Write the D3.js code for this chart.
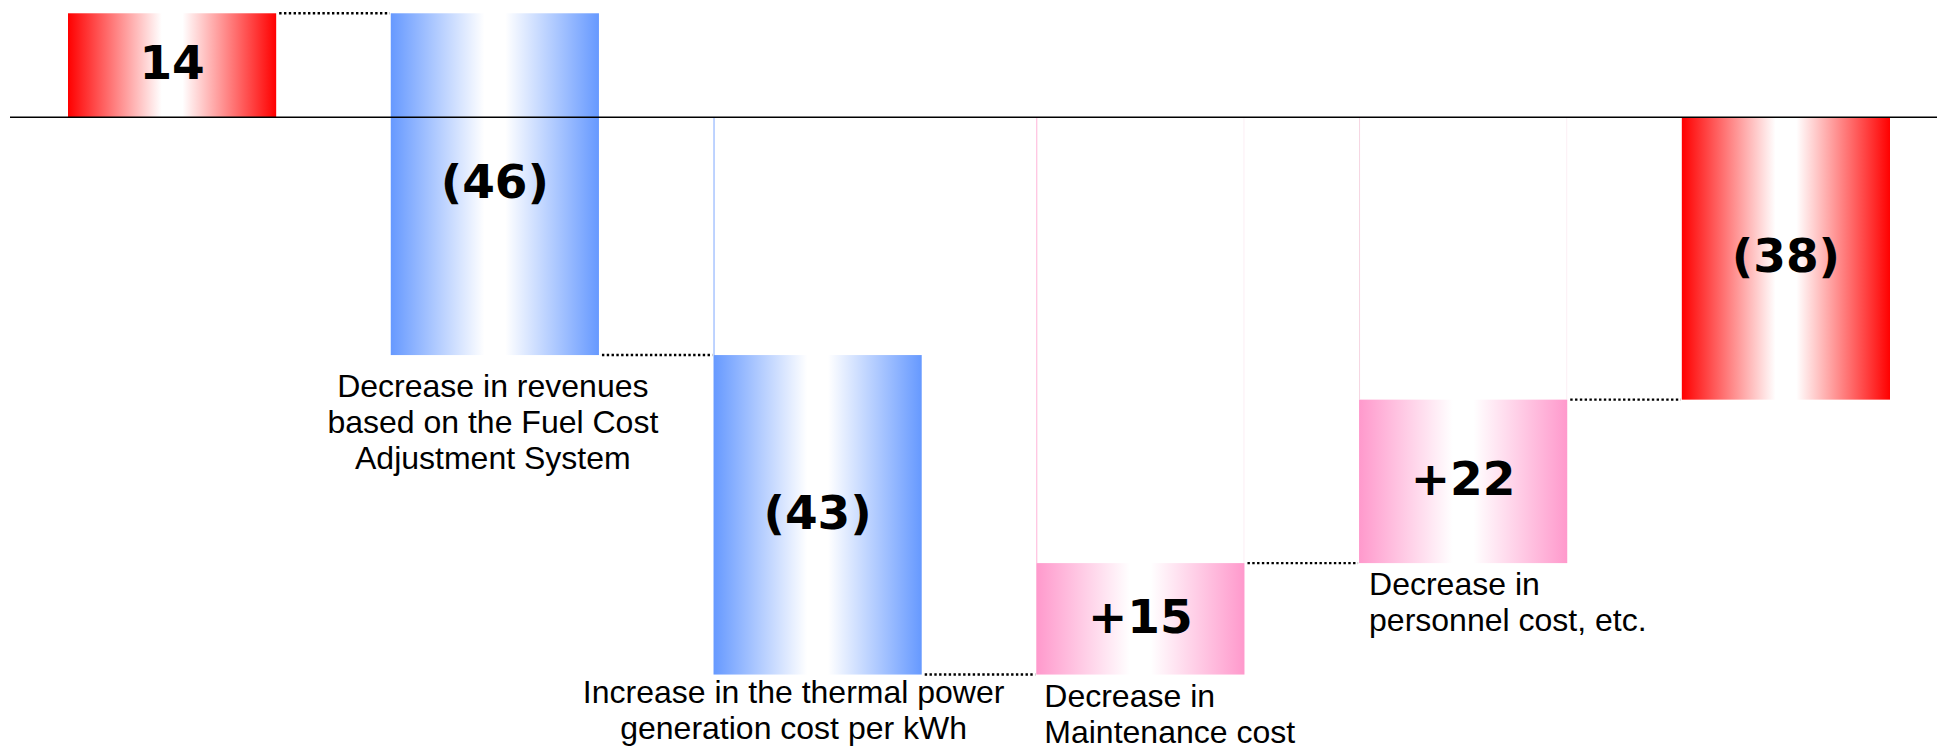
<!DOCTYPE html>
<html>
<head>
<meta charset="utf-8">
<script src="https://cdn.jsdelivr.net/npm/d3@7"></script>
<style>
  html, body { margin: 0; padding: 0; background: #ffffff; }
  svg { display: block; }
</style>
</head>
<body>
<svg id="chart" width="1937" height="750"></svg>
<script>
// Waterfall steps: opening total, four changes, closing total
const steps = ["opening", "fuelAdjustment", "thermalCost", "maintenance", "personnel", "closing"];
const kinds = ["total", "decrease", "decrease", "increase", "increase", "total"];
const values = [14, -46, -43, 15, 22, -38];
const valueLabels = ["14", "(46)", "(43)", "+15", "+22", "(38)"];
const stepLabels = [
  [],
  ["Decrease in revenues", "based on the Fuel Cost", "Adjustment System"],
  ["Increase in the thermal power", "generation cost per kWh"],
  ["Decrease in", "Maintenance cost"],
  ["Decrease in", "personnel cost, etc."],
  []
];

// running totals -> [start, end] of every bar
let running = 0;
const bars = steps.map((s, i) => {
  let start, end;
  if (kinds[i] === "total") { start = 0; end = values[i]; running = values[i]; }
  else { start = running; end = running + values[i]; running = end; }
  return { step: s, kind: kinds[i], value: values[i], label: valueLabels[i], lines: stepLabels[i], start, end, i };
});

const svg = d3.select("#chart");

const x = d3.scaleBand().domain(steps).range([68, 1890]).paddingInner(0.355).paddingOuter(0);
const y = d3.scaleLinear().domain([-85, 15]).range([748.85, 5.85]);

// horizontal "tube" gradients: strong colour at both edges, white in the middle
const defs = svg.append("defs");
const palette = { total: "#FF0000", decrease: "#6699FF", increase: "#FF99CC" };
Object.entries(palette).forEach(([k, c]) => {
  const g = defs.append("linearGradient").attr("id", "grad-" + k)
    .attr("x1", "0%").attr("x2", "100%").attr("y1", "0%").attr("y2", "0%");
  [[0, c], [0.45, "#FFFFFF"], [0.55, "#FFFFFF"], [1, c]].forEach(([o, col]) =>
    g.append("stop").attr("offset", o).attr("stop-color", col));
});

// faint outlines of the invisible base segments below the zero line
const baseEdge = { decrease: "#7FA8FF", increase: "#FFB3D9" };
bars.filter(b => b.kind !== "total" && Math.max(b.start, b.end) < 0).forEach(b => {
  const top = y(0), bottom = y(Math.max(b.start, b.end));
  const leftColor = b.i === 4 ? "#F6D5E2" : baseEdge[b.kind];
  svg.append("line")
    .attr("x1", x(b.step) + 0.5).attr("x2", x(b.step) + 0.5)
    .attr("y1", top).attr("y2", bottom)
    .attr("stroke", leftColor).attr("stroke-width", 1);
  if (b.kind === "increase") {
    svg.append("line")
      .attr("x1", x(b.step) + x.bandwidth() - 0.5).attr("x2", x(b.step) + x.bandwidth() - 0.5)
      .attr("y1", top).attr("y2", bottom)
      .attr("stroke", "#FCEEF4").attr("stroke-width", 1);
  }
});

// bars
svg.append("g").selectAll("rect").data(bars).join("rect")
  .attr("x", d => x(d.step))
  .attr("width", x.bandwidth())
  .attr("y", d => y(Math.max(d.start, d.end)))
  .attr("height", d => Math.abs(y(d.start) - y(d.end)))
  .attr("fill", d => `url(#grad-${d.kind})`);

// dotted connectors between consecutive bars at the running total
const connectors = bars.slice(0, -1).map((b, i) => ({
  x1: x(b.step) + x.bandwidth() + 3, x2: x(bars[i + 1].step) - 1, level: b.end
}));
svg.append("g").selectAll("line").data(connectors).join("line")
  .attr("x1", d => d.x1).attr("x2", d => d.x2)
  .attr("y1", d => y(d.level)).attr("y2", d => y(d.level))
  .attr("stroke", "#000").attr("stroke-width", 2.4).attr("stroke-dasharray", "2.4,2.4");

// zero line
svg.append("line")
  .attr("x1", 10).attr("x2", 1937)
  .attr("y1", y(0)).attr("y2", y(0))
  .attr("stroke", "#000").attr("stroke-width", 1.5);

// value labels inside bars
svg.append("g").selectAll("text").data(bars).join("text")
  .attr("x", d => x(d.step) + x.bandwidth() / 2)
  .attr("y", d => (y(d.start) + y(d.end)) / 2 + 14)
  .attr("text-anchor", "middle")
  .attr("font-family", "'DejaVu Sans', Verdana, sans-serif")
  .attr("font-weight", "bold")
  .attr("font-size", 47)
  .attr("fill", "#000")
  .text(d => d.label);

// step descriptions under each change bar
const descLayout = [null,
  { anchor: "middle", dx: () => x.bandwidth() / 2 - 2, dy: 42, lh: 36 },
  { anchor: "middle", dx: () => x.bandwidth() / 2 - 24, dy: 28, lh: 36 },
  { anchor: "start", dx: () => 8, dy: 32, lh: 36 },
  { anchor: "start", dx: () => 10, dy: 32, lh: 36 },
  null];
bars.forEach((b, i) => {
  if (!b.lines.length) return;
  const lay = descLayout[i];
  const t = svg.append("text")
    .attr("font-family", "'Liberation Sans', Arial, sans-serif")
    .attr("font-size", 32)
    .attr("fill", "#000")
    .attr("text-anchor", lay.anchor);
  const bottom = y(Math.min(b.start, b.end));
  b.lines.forEach((ln, k) => {
    t.append("tspan")
      .attr("x", x(b.step) + lay.dx())
      .attr("y", bottom + lay.dy + k * lay.lh)
      .text(ln);
  });
});
</script>
</body>
</html>
